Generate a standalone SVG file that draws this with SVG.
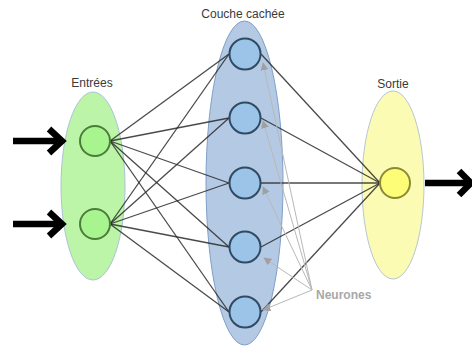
<svg xmlns="http://www.w3.org/2000/svg" width="472" height="346" viewBox="0 0 472 346">
<defs>
<style>
.lbl{font-family:"Liberation Sans",Arial,sans-serif;font-size:12px;fill:#3a3a3a;text-anchor:middle}
.note{font-family:"Liberation Sans",Arial,sans-serif;font-size:12px;font-weight:bold;fill:#a8a8a8}
.conn line{stroke:#2a2a2a;stroke-opacity:0.85;stroke-width:1.3}
.ptr line{stroke:#b8b8b8;stroke-width:1}
.big{stroke:#000;stroke-width:6.5;fill:none}
.inN{fill:#a8f590;stroke:#4a7d3a;stroke-width:2}
.hidN{fill:#9cc4e8;stroke:#2f4a62;stroke-width:2}
.outN{fill:#fdfd78;stroke:#8a8a36;stroke-width:2}
</style>
<marker id="ah" viewBox="0 0 10 10" refX="9" refY="5" markerWidth="8" markerHeight="8" orient="auto" markerUnits="userSpaceOnUse">
<path d="M0,0 L10,5 L0,10 z" fill="#a0a0a0"/>
</marker>
</defs>
<rect width="472" height="346" fill="#fff"/>

<g id="layer-in">
<ellipse cx="93" cy="186" rx="32" ry="94" fill="#bdf5a8" stroke="#a9c3d6" stroke-width="1"/>
<text class="lbl" x="92" y="87">Entrées</text>
</g>
<g id="layer-hidden">
<ellipse cx="244.5" cy="183" rx="38.5" ry="162" fill="#b4cae4" stroke="#7f9fc8" stroke-width="1"/>
<text class="lbl" x="243" y="18">Couche cachée</text>
</g>
<g id="layer-out">
<ellipse cx="393" cy="185" rx="31" ry="94" fill="#fbfbb4" stroke="#b7c7d3" stroke-width="1"/>
<text class="lbl" x="393" y="88">Sortie</text>
</g>

<g id="connectors" class="conn">
<line x1="110" y1="141" x2="229" y2="54"/>
<line x1="110" y1="141" x2="229" y2="118"/>
<line x1="110" y1="141" x2="229" y2="183"/>
<line x1="110" y1="141" x2="229" y2="247"/>
<line x1="110" y1="141" x2="229" y2="312"/>
<line x1="110" y1="224" x2="229" y2="54"/>
<line x1="110" y1="224" x2="229" y2="118"/>
<line x1="110" y1="224" x2="229" y2="183"/>
<line x1="110" y1="224" x2="229" y2="247"/>
<line x1="110" y1="224" x2="229" y2="312"/>
<line x1="261" y1="54" x2="380" y2="183"/>
<line x1="261" y1="118" x2="380" y2="183"/>
<line x1="261" y1="183" x2="380" y2="183"/>
<line x1="261" y1="247" x2="380" y2="183"/>
<line x1="261" y1="312" x2="380" y2="183"/>
</g>

<g id="in1"><circle class="inN" cx="95" cy="141" r="15"/></g>
<g id="in2"><circle class="inN" cx="95" cy="224" r="15"/></g>
<g id="h1"><circle class="hidN" cx="245" cy="54" r="15.5"/></g>
<g id="h2"><circle class="hidN" cx="245" cy="118" r="15.5"/></g>
<g id="h3"><circle class="hidN" cx="245" cy="183" r="15.5"/></g>
<g id="h4"><circle class="hidN" cx="245" cy="247" r="15.5"/></g>
<g id="h5"><circle class="hidN" cx="245" cy="312" r="15.5"/></g>
<g id="out1"><circle class="outN" cx="395" cy="183" r="15"/></g>

<g id="io-arrows">
<line class="big" x1="13" y1="141" x2="60" y2="141"/>
<polyline class="big" points="49,129 62,141 49,153"/>
<line class="big" x1="13" y1="224" x2="60" y2="224"/>
<polyline class="big" points="49,212 62,224 49,236"/>
<line class="big" x1="425" y1="183" x2="469" y2="183"/>
<polyline class="big" points="459,171 471,183 459,195"/>
</g>

<g id="neurones-note" class="ptr">
<line x1="312" y1="290" x2="263" y2="63" marker-end="url(#ah)"/>
<line x1="312" y1="290" x2="263" y2="121" marker-end="url(#ah)"/>
<line x1="312" y1="290" x2="263" y2="187" marker-end="url(#ah)"/>
<line x1="312" y1="290" x2="264" y2="258" marker-end="url(#ah)"/>
<line x1="312" y1="290" x2="263" y2="310" marker-end="url(#ah)"/>
<text class="note" x="316" y="299">Neurones</text>
</g>
</svg>
